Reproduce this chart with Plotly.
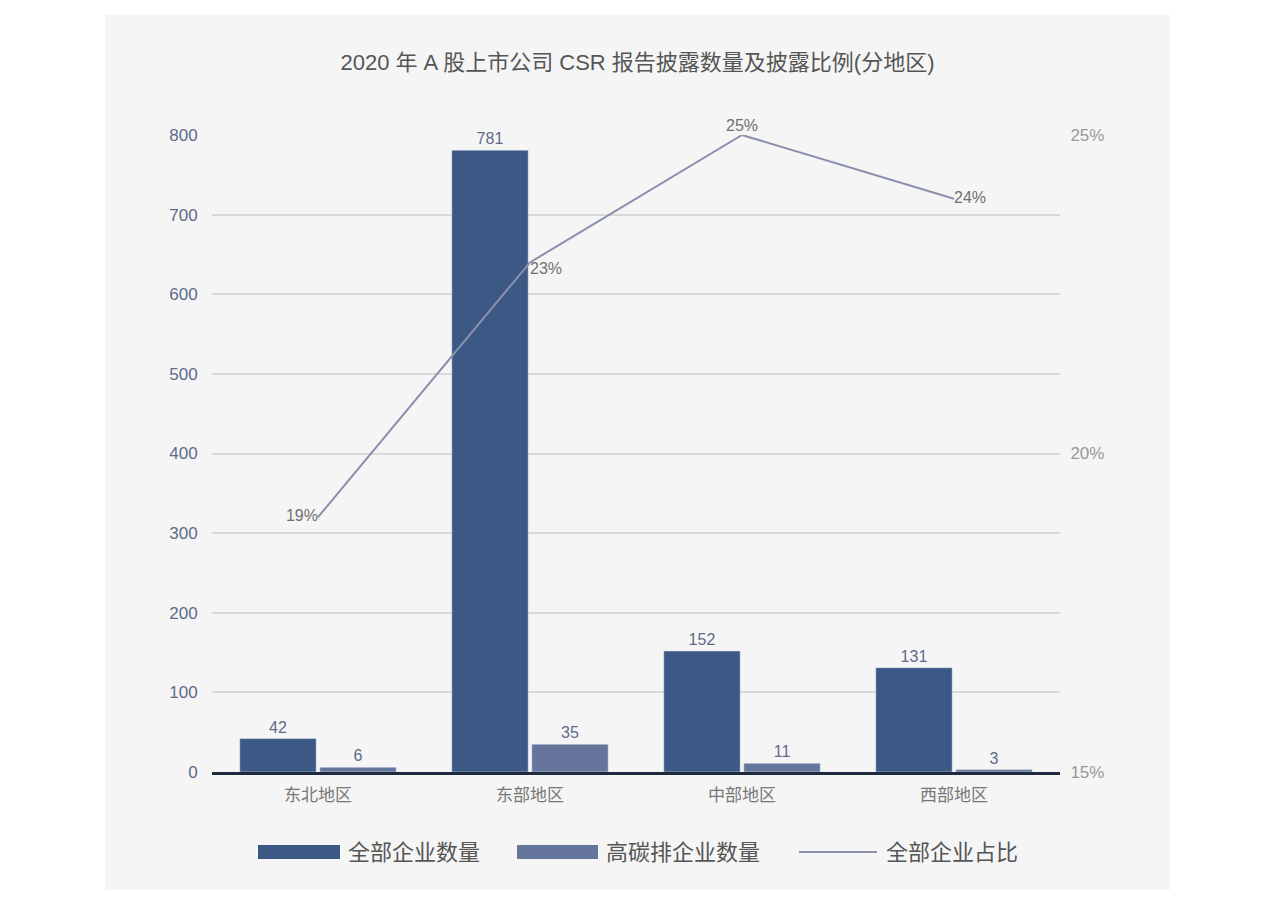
import plotly.graph_objects as go

regions = ["东北地区", "东部地区", "中部地区", "西部地区"]
all_count = [42, 781, 152, 131]
high_carbon_count = [6, 35, 11, 3]
all_ratio = [19, 23, 25, 24]
ratio_labels = ["19%", "23%", "25%", "24%"]
left_ticks = [0, 100, 200, 300, 400, 500, 600, 700, 800]
right_ticks = [15, 20, 25]
right_tick_text = ["15%", "20%", "25%"]
legend_names = ["全部企业数量", "高碳排企业数量", "全部企业占比"]

C_DARK = "#3c5986"
C_LIGHT = "#65759c"
C_LINE = "#8a8fae"
FONT = "Liberation Sans, Noto Sans CJK SC, sans-serif"

W, H = 1280, 908
L, R, T, B = 212, 220, 135, 136
PW, PH = W - L - R, H - T - B


def px(x):
    return (x - L) / PW


def py(y):
    return (H - B - y) / PH


fig = go.Figure()
fig.add_trace(go.Bar(
    x=regions, y=all_count, name=legend_names[0], marker_color=C_DARK,
    text=[str(v) for v in all_count], textposition="outside",
    textfont=dict(size=16, color="#5d6b88"), cliponaxis=False,
))
fig.add_trace(go.Bar(
    x=regions, y=high_carbon_count, name=legend_names[1], marker_color=C_LIGHT,
    text=[str(v) for v in high_carbon_count], textposition="outside",
    textfont=dict(size=16, color="#5d6b88"), cliponaxis=False,
))
fig.add_trace(go.Scatter(
    x=regions, y=all_ratio, name=legend_names[2], yaxis="y2", mode="lines+text",
    line=dict(color=C_LINE, width=2), text=ratio_labels,
    textposition=["middle left", "bottom right", "top center", "middle right"],
    textfont=dict(size=16, color="#707070"), cliponaxis=False,
))

shapes = [
    dict(type="rect", xref="paper", yref="paper", x0=px(105), x1=px(1170),
         y0=py(890), y1=py(15), fillcolor="#f5f5f5", line=dict(width=0), layer="below"),
    dict(type="rect", xref="paper", yref="paper", x0=px(258), x1=px(340),
         y0=py(859), y1=py(845), fillcolor=C_DARK, line=dict(width=0)),
    dict(type="rect", xref="paper", yref="paper", x0=px(517), x1=px(598),
         y0=py(859), y1=py(845), fillcolor=C_LIGHT, line=dict(width=0)),
    dict(type="line", xref="paper", yref="paper", x0=px(799), x1=px(877),
         y0=py(852), y1=py(852), line=dict(color=C_LINE, width=2)),
]
annotations = [
    dict(text=legend_names[0], xref="paper", yref="paper", x=px(346), y=py(852),
         xanchor="left", yanchor="middle", showarrow=False, font=dict(size=22, color="#555")),
    dict(text=legend_names[1], xref="paper", yref="paper", x=px(604), y=py(852),
         xanchor="left", yanchor="middle", showarrow=False, font=dict(size=22, color="#555")),
    dict(text=legend_names[2], xref="paper", yref="paper", x=px(884), y=py(852),
         xanchor="left", yanchor="middle", showarrow=False, font=dict(size=22, color="#555")),
]

fig.update_layout(
    width=W, height=H,
    margin=dict(l=L, r=R, t=T, b=B, pad=0),
    paper_bgcolor="white", plot_bgcolor="rgba(0,0,0,0)",
    font=dict(family=FONT, color="#666"),
    title=dict(text="2020 年 A 股上市公司 CSR 报告披露数量及披露比例(分地区)",
               x=px(637.5), xref="paper", xanchor="center", y=1 - 62 / H, yanchor="middle",
               font=dict(size=22, color="#555")),
    barmode="group", bargap=0.245, bargroupgap=0.045,
    showlegend=False,
    xaxis=dict(showline=True, linecolor="#1f2a3f", linewidth=3, showgrid=False,
               ticks="outside", ticklen=6, tickcolor="rgba(0,0,0,0)",
               tickfont=dict(size=17, color="#777")),
    yaxis=dict(range=[0, 800], tickvals=left_ticks, showgrid=True, gridcolor="#d8d8d8",
               gridwidth=2, zeroline=False, ticks="outside", ticklen=10,
               tickcolor="rgba(0,0,0,0)", tickfont=dict(size=17, color="#5d6b8a")),
    yaxis2=dict(range=[15, 25], tickvals=right_ticks, ticktext=right_tick_text,
                overlaying="y", side="right", showgrid=False, zeroline=False,
                ticks="outside", ticklen=6, tickcolor="rgba(0,0,0,0)",
                tickfont=dict(size=17, color="#999")),
    shapes=shapes, annotations=annotations,
)

fig.write_html("out.html")
